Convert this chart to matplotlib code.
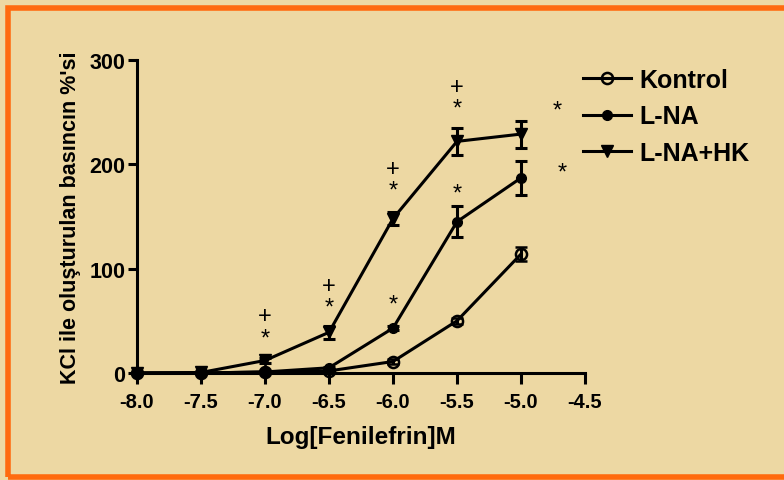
import matplotlib

matplotlib.use("Agg")

import matplotlib.pyplot as plt
from matplotlib.patches import Rectangle

# Data (mean +/- error)
log_conc = [-8.0, -7.5, -7.0, -6.5, -6.0, -5.5, -5.0]

kontrol = [0, 0, 1, 2, 11, 50, 114]
kontrol_err = [0, 0, 0.5, 1, 2, 3, 7]

lna = [0, 0, 1, 5, 43, 145, 187]
lna_err = [0, 0, 1, 1, 2, 15, 16]

lna_hk = [0, 0.5, 12, 39, 148, 222, 229]
lna_hk_err = [0, 0, 2, 6, 6, 13, 13]

labels = ["Kontrol", "L-NA", "L-NA+HK"]

# significance marks (x, y, text); "+" stacked above "*"
mark_x = [-7.0, -6.5, -6.0, -6.0, -5.5, -5.5, -4.72, -4.68]
mark_y = [44, 73, 185, 66, 264, 172, 252, 192]
mark_txt = ["+\n*", "+\n*", "+\n*", "*", "+\n*", "*", "*", "*"]

xticks = [-8.0, -7.5, -7.0, -6.5, -6.0, -5.5, -5.0, -4.5]
yticks = [0, 100, 200, 300]

BG = "#EDD8A3"
ORANGE = "#FF6A0E"

plt.rcParams["font.family"] = ["Liberation Sans", "DejaVu Sans"]
plt.rcParams["axes.unicode_minus"] = False

fig = plt.figure(figsize=(7.84, 4.81), dpi=100, facecolor=BG)
fig.patches.append(
    Rectangle(
        (7.5 / 784, 3.5 / 481),
        1.2,
        1 - 8.5 / 481 - 3.5 / 481,
        transform=fig.transFigure,
        fill=False,
        edgecolor=ORANGE,
        linewidth=4.0,
    )
)

ax = fig.add_axes([137 / 784, 107 / 481, 448 / 784, 313 / 481])
ax.set_facecolor("none")

lw = 2.2
common = dict(color="black", linewidth=lw, capsize=4, capthick=lw, elinewidth=lw, clip_on=False)
h1 = ax.errorbar(log_conc, kontrol, yerr=kontrol_err, marker="o", markersize=8,
                 markerfacecolor="none", markeredgewidth=1.8, **common)
h2 = ax.errorbar(log_conc, lna, yerr=lna_err, marker="o", markersize=7, **common)
h3 = ax.errorbar(log_conc, lna_hk, yerr=lna_hk_err, marker="v", markersize=9, **common)

for x, y, t in zip(mark_x, mark_y, mark_txt):
    ax.text(x, y, t, ha="center", va="center", fontsize=17, linespacing=1.0)

ax.set_xlim(-8.0, -4.5)
ax.set_ylim(0, 300)
ax.set_xticks(xticks)
ax.set_xticklabels([f"{v:.1f}" for v in xticks])
ax.set_yticks(yticks)

for side in ["top", "right"]:
    ax.spines[side].set_visible(False)
for side in ["left", "bottom"]:
    ax.spines[side].set_linewidth(lw)

ax.tick_params(axis="x", direction="out", length=8, width=lw, pad=6, labelsize=14.5)
ax.tick_params(axis="y", direction="out", length=6.5, width=lw, pad=2, labelsize=15.5)
for lab in ax.get_xticklabels() + ax.get_yticklabels():
    lab.set_fontweight("bold")

ax.set_xlabel("Log[Fenilefrin]M", fontsize=17.5, fontweight="bold", labelpad=10)
ax.set_ylabel("KCl ile oluşturulan basıncın %'si", fontsize=15.5, fontweight="bold", labelpad=6)

leg = fig.legend(
    [h1.lines[0], h2.lines[0], h3.lines[0]],
    labels,
    loc="upper left",
    bbox_to_anchor=(583 / 784, 1 - 69 / 481),
    frameon=False,
    prop={"weight": "bold", "size": 18},
    handlelength=1.9,
    handletextpad=0.35,
    labelspacing=0.5,
    borderpad=0,
    borderaxespad=0,
)

fig.savefig("out.png", dpi=100, facecolor=BG)
